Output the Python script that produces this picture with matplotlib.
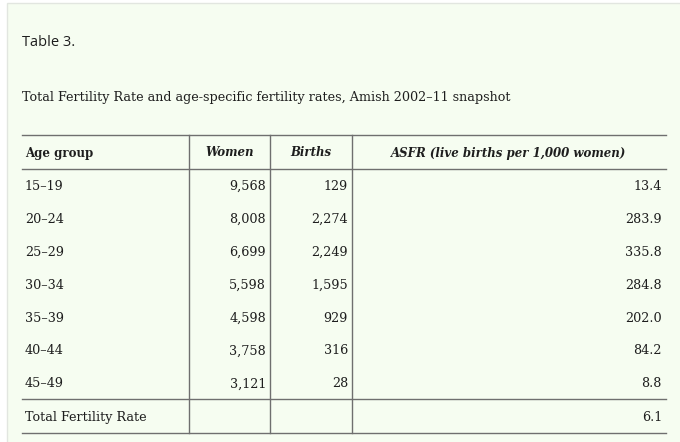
import matplotlib.pyplot as plt
from matplotlib.patches import Rectangle

# Table data
age_groups = ["15–19", "20–24", "25–29", "30–34", "35–39", "40–44", "45–49"]
women = [9568, 8008, 6699, 5598, 4598, 3758, 3121]
births = [129, 2274, 2249, 1595, 929, 316, 28]
asfr = [13.4, 283.9, 335.8, 284.8, 202.0, 84.2, 8.8]
tfr = 6.1

headers = ["Age group", "Women", "Births", "ASFR (live births per 1,000 women)"]
table_label = "Table 3."
caption = "Total Fertility Rate and age-specific fertility rates, Amish 2002–11 snapshot"

W, H = 680, 442
fig = plt.figure(figsize=(W / 100, H / 100), dpi=100)
ax = fig.add_axes([0, 0, 1, 1])
ax.set_xlim(0, W)
ax.set_ylim(H, 0)
ax.axis("off")

bg = "#f6fdf1"
line_c = "#6f6f6f"
txt_c = "#1e1e1e"
serif = ["DejaVu Serif"]
fs = 9.15   # body text
hfs = 8.5   # header text (bold is wider)
base = 4.5  # baseline offset from row centre, px

# card background
ax.add_patch(Rectangle((7, 3), W, H, facecolor=bg, edgecolor="#e2e6e0", lw=1))

ax.text(22, 42 + base, table_label, fontsize=10.5, family="Open Sans", color=txt_c,
        va="baseline", ha="left")
ax.text(22, 97 + base, caption, fontsize=fs, family=serif, color=txt_c,
        va="baseline", ha="left")

# column edges
cols = [22, 189, 270, 352, 666]
top, head_bot = 135, 169
row_h = 32.9
row_y = [head_bot + row_h * (i + 0.5) for i in range(len(age_groups))]
tfr_top = head_bot + row_h * len(age_groups)
bottom = tfr_top + 34

for y in [top, head_bot, tfr_top, bottom]:
    ax.plot([cols[0], cols[-1]], [y, y], color=line_c, lw=1)
for x in cols[1:-1]:
    ax.plot([x, x], [top, bottom], color=line_c, lw=1)

# header
hy = (top + head_bot) / 2 + base
ax.text(cols[0] + 3, hy, headers[0], fontsize=hfs, family=serif, weight="bold",
        color=txt_c, va="baseline", ha="left")
for i in range(1, 4):
    ax.text((cols[i] + cols[i + 1]) / 2, hy, headers[i], fontsize=hfs, family=serif,
            weight="bold", style="italic", color=txt_c, va="baseline", ha="center")

pad = 4
for i, y in enumerate(row_y):
    y = y + base
    ax.text(cols[0] + 3, y, age_groups[i], fontsize=fs, family=serif, color=txt_c,
            va="baseline", ha="left")
    ax.text(cols[2] - pad, y, f"{women[i]:,}", fontsize=fs, family=serif,
            color=txt_c, va="baseline", ha="right")
    ax.text(cols[3] - pad, y, f"{births[i]:,}", fontsize=fs, family=serif,
            color=txt_c, va="baseline", ha="right")
    ax.text(cols[4] - pad, y, f"{asfr[i]:.1f}", fontsize=fs, family=serif,
            color=txt_c, va="baseline", ha="right")

ty = (tfr_top + bottom) / 2 + base
ax.text(cols[0] + 3, ty, "Total Fertility Rate", fontsize=fs, family=serif,
        color=txt_c, va="baseline", ha="left")
ax.text(cols[4] - pad, ty, f"{tfr:.1f}", fontsize=fs, family=serif,
        color=txt_c, va="baseline", ha="right")

fig.savefig("out.png", dpi=100, facecolor="white")
